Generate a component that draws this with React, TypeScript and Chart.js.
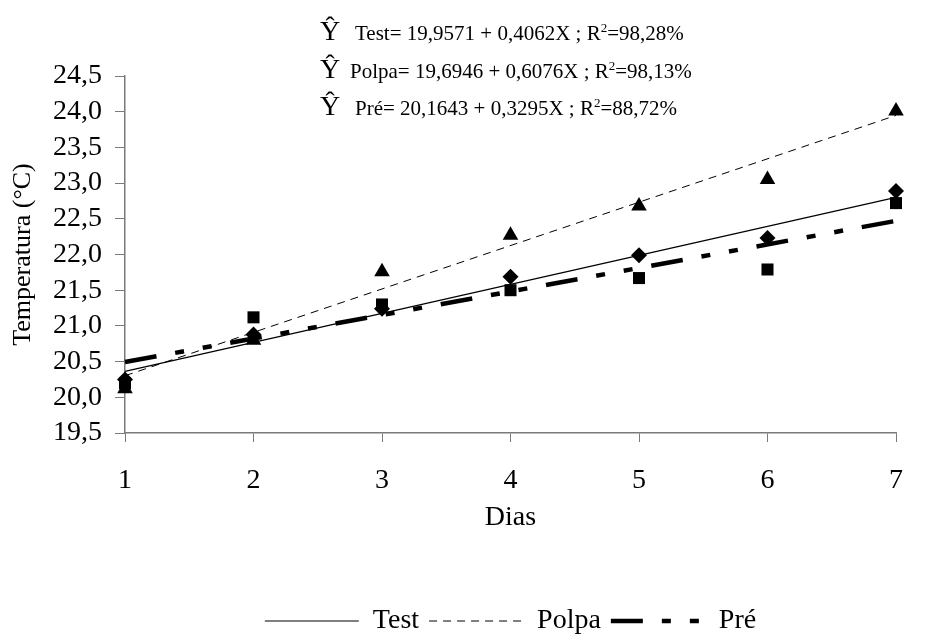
import React, { useEffect, useRef } from 'react';
import { Chart, registerables } from 'chart.js';

Chart.register(...registerables);

const FONT = '"Liberation Serif", "Times New Roman", Times, serif';

// ---- data ----
const days = [1, 2, 3, 4, 5, 6, 7];
const seriesNames = ['Test', 'Polpa', 'Pré'];
const testValues = [20.25, 20.88, 21.24, 21.69, 21.99, 22.23, 22.89];
const polpaValues = [20.12, 20.8, 21.76, 22.27, 22.68, 23.05, 24.01];
const preValues = [20.2, 21.12, 21.3, 21.5, 21.67, 21.79, 22.72];
const intercepts = [19.9571, 19.6946, 20.1643];
const slopes = [0.4062, 0.6076, 0.3295];
const r2Labels = ['98,28%', '98,13%', '88,72%'];
const yMin = 19.5;
const yMax = 24.5;
const yStep = 0.5;
const xTitle = 'Dias';
const yTitle = 'Temperatura (°C)';

const markerStyles = ['rectRot', 'triangle', 'rect'];
const markerRadius = [8, 9, 8.5];
const lineWidths = [1.2, 1, 4.5];
const lineDashes: number[][] = [[], [8, 6], [32, 19, 9, 19, 9, 19]];

const PLOT_BOTTOM = 433;
const LEGEND_FONT = 28;
const LEGEND_PAD = 10;
const LEGEND_HEIGHT = LEGEND_FONT + LEGEND_PAD + 10;
const BOTTOM_SHIFT = 6;

const fmt = (v: number, d: number) => v.toFixed(d).replace('.', ',');

const equationPlugin = {
  id: 'equations',
  afterDraw(chart: any) {
    const ctx = chart.ctx as CanvasRenderingContext2D;
    const rows = [
      { hatX: 320, textX: 355, base: 40 },
      { hatX: 320, textX: 350, base: 78 },
      { hatX: 320, textX: 355, base: 115 },
    ];
    ctx.save();
    ctx.fillStyle = '#000';
    ctx.textBaseline = 'alphabetic';
    ctx.textAlign = 'left';
    seriesNames.forEach((name, i) => {
      const r = rows[i];
      ctx.font = `28px ${FONT}`;
      ctx.fillText('Ŷ', r.hatX, r.base);
      ctx.font = `21px ${FONT}`;
      let x = r.textX;
      const part1 = `${name}= ${fmt(intercepts[i], 4)} + ${fmt(slopes[i], 4)}X ; R`;
      ctx.fillText(part1, x, r.base);
      x += ctx.measureText(part1).width;
      ctx.font = `13px ${FONT}`;
      ctx.fillText('2', x, r.base - 8);
      x += ctx.measureText('2').width;
      ctx.font = `21px ${FONT}`;
      ctx.fillText(`=${r2Labels[i]}`, x, r.base);
    });
    ctx.restore();
  },
};

export default function App() {
  const ref = useRef<HTMLCanvasElement | null>(null);

  useEffect(() => {
    if (!ref.current) return;
    Chart.defaults.font.family = FONT;
    const seriesValues = [testValues, polpaValues, preValues];

    const pointSets = seriesValues.map((vals, i) => ({
      type: 'scatter' as const,
      label: seriesNames[i],
      data: days.map((d, j) => ({ x: d, y: vals[j] })),
      pointStyle: markerStyles[i],
      pointRadius: markerRadius[i],
      pointHoverRadius: markerRadius[i],
      backgroundColor: '#000',
      borderColor: '#000',
      borderWidth: 0,
      showLine: false,
      clip: false,
      order: 0,
    }));

    const lineSets = seriesValues.map((_, i) => ({
      type: 'scatter' as const,
      label: seriesNames[i] + ' ajuste',
      data: [days[0], days[days.length - 1]].map((d) => ({ x: d, y: intercepts[i] + slopes[i] * d })),
      showLine: true,
      pointRadius: 0,
      pointHoverRadius: 0,
      borderColor: '#000',
      backgroundColor: '#000',
      borderWidth: lineWidths[i],
      borderDash: lineDashes[i],
      borderCapStyle: 'butt',
      clip: false,
      order: 1,
    }));

    const chart = new Chart(ref.current, {
      type: 'scatter',
      data: { datasets: [...pointSets, ...lineSets] as any },
      options: {
        animation: false,
        responsive: false,
        maintainAspectRatio: false,
        layout: { padding: { top: 76, right: 12, left: 0, bottom: -BOTTOM_SHIFT } },
        plugins: {
          tooltip: { enabled: false },
          legend: {
            display: true,
            position: 'bottom',
            fullSize: false,
            labels: {
              usePointStyle: true,
              pointStyleWidth: 94,
              padding: LEGEND_PAD,
              color: '#000',
              font: { size: LEGEND_FONT, family: FONT },
              generateLabels: () =>
                seriesNames.map((name, i) => ({
                  text: name,
                  pointStyle: 'line',
                  lineWidth: lineWidths[i],
                  lineDash: lineDashes[i],
                  lineCap: 'butt',
                  strokeStyle: '#000',
                  fillStyle: '#000',
                  fontColor: '#000',
                  hidden: false,
                  datasetIndex: i + 3,
                })) as any,
            },
          },
        },
        scales: {
          x: {
            type: 'linear',
            min: days[0],
            max: days[days.length - 1],
            offset: false,
            border: { display: true, color: '#7a7a7a', width: 1.5 },
            grid: { display: true, drawOnChartArea: false, drawTicks: true, tickLength: 9, color: '#7a7a7a', lineWidth: 1 },
            ticks: {
              stepSize: 1,
              padding: 22,
              autoSkip: false,
              maxRotation: 0,
              color: '#000',
              font: { size: 28, family: FONT },
              callback: (v: any) => String(v),
            },
            title: {
              display: true,
              text: xTitle,
              color: '#000',
              font: { size: 28, family: FONT },
              padding: { top: 0, bottom: 57 + BOTTOM_SHIFT },
            },
            afterFit: (s: any) => {
              s.height = s.chart.height + BOTTOM_SHIFT - PLOT_BOTTOM - LEGEND_HEIGHT;
            },
          },
          y: {
            type: 'linear',
            min: yMin,
            max: yMax,
            border: { display: true, color: '#7a7a7a', width: 1.5 },
            grid: { display: true, drawOnChartArea: false, drawTicks: true, tickLength: 10, color: '#7a7a7a', lineWidth: 1 },
            ticks: {
              stepSize: yStep,
              padding: 13,
              autoSkip: false,
              color: '#000',
              font: { size: 28, family: FONT },
              callback: (v: any) => fmt(Number(v), 1),
            },
            title: {
              display: true,
              text: yTitle,
              color: '#000',
              font: { size: 26, family: FONT },
              padding: { top: 7.4, bottom: 0 },
            },
            afterFit: (s: any) => {
              s.width = 125;
            },
          },
        },
      },
      plugins: [equationPlugin],
    });

    return () => chart.destroy();
  }, []);

  return (
    <div style={{ position: 'fixed', left: 0, top: 0, width: 925, height: 639, background: '#fff' }}>
      <canvas ref={ref} width={925} height={639} style={{ width: 925, height: 639, display: 'block' }} />
    </div>
  );
}
